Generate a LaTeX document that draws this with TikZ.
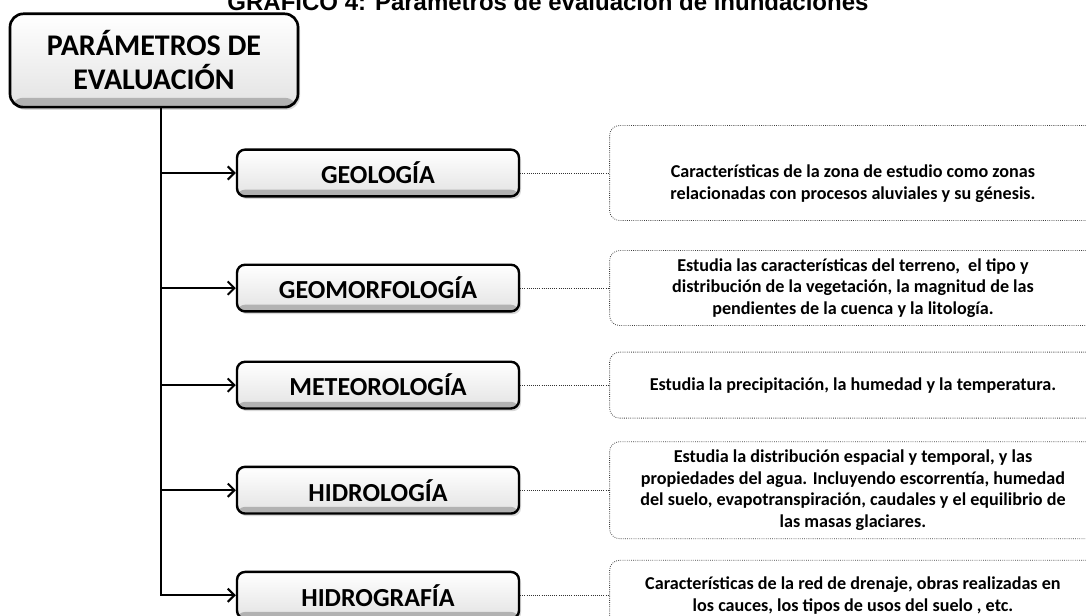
\documentclass[tikz,border=0pt]{standalone}
\usepackage{fontspec}
\setmainfont{Carlito}
\newfontfamily\headfont{Liberation Sans}
\usetikzlibrary{positioning,shadows,arrows.meta}

\begin{document}
\begin{tikzpicture}[x=0.75pt, y=-0.75pt,
    >={Straight Barb[length=5pt,width=10pt]},
    catbox/.style={draw=black, line width=1.8pt, rounded corners=6pt,
        minimum width=211.5pt, minimum height=35pt, align=center,
        font=\bfseries\fontsize{19.5}{22}\selectfont,
        top color=white, bottom color=gray!22,
        path picture={\fill[gray!60] (path picture bounding box.south west)
            rectangle ([yshift=5pt]path picture bounding box.south east);},
        drop shadow={opacity=0.3, shadow xshift=1.5pt, shadow yshift=-2pt}},
    mainbox/.style={catbox, line width=2pt, rounded corners=10pt,
        minimum width=216pt, minimum height=70pt,
        font=\bfseries\fontsize{22.5}{25.5}\selectfont,
        path picture={\fill[gray!60] (path picture bounding box.south west)
            rectangle ([yshift=7pt]path picture bounding box.south east);}},
    descbox/.style={draw=black!75, densely dotted, line width=0.6pt,
        rounded corners=7.5pt, minimum width=365pt, align=center,
        font=\bfseries\fontsize{13.6}{16.3}\selectfont},
    link/.style={draw=black!80, densely dotted, line width=0.6pt},
    branch/.style={line width=1.5pt, ->}]

\useasboundingbox (0,0) rectangle (1086,616);

\node [anchor=base, font=\headfont\bfseries\fontsize{18}{21}\selectfont] (caption) at (548,11)
    {GRÁFICO 4: Parámetros de evaluación de inundaciones};

\node [mainbox] (param) at (154,60.5) {PARÁMETROS DE\\EVALUACIÓN};

\node [catbox] (geo) at (378,173) {GEOLOGÍA};
\node [catbox, below=49.5pt of geo] (geomorf) {GEOMORFOLOGÍA};
\node [catbox, below=36pt of geomorf] (meteo) {METEOROLOGÍA};
\node [catbox, below=42pt of meteo] (hidrol) {HIDROLOGÍA};
\node [catbox, below=42pt of hidrol] (hidrogr) {HIDROGRAFÍA};

\node [descbox, minimum height=71.25pt, right=66.75pt of geo] (geo_desc)
    {\rule{0pt}{26pt}Características de la zona de estudio como zonas\\relacionadas con procesos aluviales y su génesis.};
\node [descbox, minimum height=56.25pt, right=66.75pt of geomorf] (geomorf_desc)
    {Estudia las características del terreno,\ \ el tipo y\\distribución de la vegetación, la magnitud de las\\pendientes de la cuenca y la litología.};
\node [descbox, minimum height=49.5pt, right=66.75pt of meteo] (meteo_desc)
    {Estudia la precipitación,\ la humedad y la temperatura.};
\node [descbox, minimum height=72.75pt, right=66.75pt of hidrol] (hidrol_desc)
    {Estudia la distribución espacial y temporal, y las\\propiedades del agua. Incluyendo escorrentía, humedad\\del suelo, evapotranspiración,\ caudales y el equilibrio de\\las masas glaciares.};
\node [descbox, minimum height=52.5pt, right=66.75pt of hidrogr] (hidrogr_desc)
    {Características de la red de drenaje, obras realizadas en\\los cauces, los tipos de usos del suelo , etc.};

% tronco
\coordinate (trunk) at ([xshift=5pt]param.south);
\draw [branch] (trunk) |- (hidrogr.west);
\draw [branch] (trunk |- geo.west) -- (geo.west);
\draw [branch] (trunk |- geomorf.west) -- (geomorf.west);
\draw [branch] (trunk |- meteo.west) -- (meteo.west);
\draw [branch] (trunk |- hidrol.west) -- (hidrol.west);

\draw [link] (geo.east) -- (geo_desc.west);
\draw [link] (geomorf.east) -- (geomorf_desc.west);
\draw [link] (meteo.east) -- (meteo_desc.west);
\draw [link] (hidrol.east) -- (hidrol_desc.west);
\draw [link] (hidrogr.east) -- (hidrogr_desc.west);

\end{tikzpicture}
\end{document}
